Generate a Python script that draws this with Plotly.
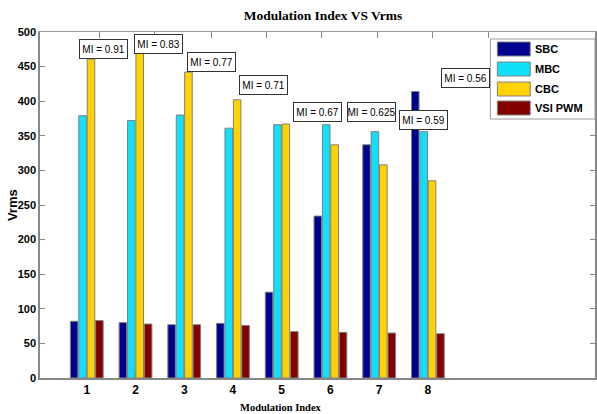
import plotly.graph_objects as go

categories = [1, 2, 3, 4, 5, 6, 7, 8]
series_names = ["SBC", "MBC", "CBC", "VSI PWM"]
sbc = [82, 80, 77, 79, 124, 234, 337, 414]
mbc = [379, 372, 380, 361, 366, 366, 356, 356]
cbc = [461, 471, 442, 402, 367, 337, 308, 285]
vsi = [83, 78, 77, 76, 67, 66, 65, 64]
mi_labels = ["MI = 0.91", "MI = 0.83", "MI = 0.77", "MI = 0.71",
             "MI = 0.67", "MI = 0.625", "MI = 0.59", "MI = 0.56"]
# label box centres in data coordinates
mi_x = [1.34, 2.47, 3.55, 4.63, 5.73, 6.84, 7.92, 8.78]
mi_y = [476, 482, 456, 423, 384, 384, 373, 433]
y_ticks = list(range(0, 501, 50))

colors = ["#00008F", "#10E0FA", "#FFD200", "#820000"]
values = [sbc, mbc, cbc, vsi]

SANS = "Liberation Sans Narrow, Arial Narrow, Liberation Sans, Arial"
SERIF = "Liberation Serif, Times New Roman, serif"

# plot-area pixel box and helpers (layout only)
L, R, T, B = 40, 597, 32, 378
def px(xp):
    return (xp - L) / (R - L)
def py(yp):
    return (B - yp) / (B - T)

fig = go.Figure()
for name, vals, col in zip(series_names, values, colors):
    fig.add_trace(go.Bar(x=categories, y=vals, name=name,
                         marker=dict(color=col, line=dict(color="#808080", width=1))))
# invisible trace so the top (mirror) tick axis renders
fig.add_trace(go.Scatter(x=[L], y=[0], xaxis="x2", mode="markers",
                         marker=dict(opacity=0), hoverinfo="skip", showlegend=False))

annotations = []
for t, x, y in zip(mi_labels, mi_x, mi_y):
    annotations.append(dict(x=x, y=y, xref="x", yref="y", text=t, showarrow=False,
                            xanchor="center", yanchor="middle",
                            font=dict(family=SANS, size=10, color="black"),
                            bgcolor="white", bordercolor="#333333", borderwidth=1,
                            width=47, height=18, borderpad=0))

annotations.append(dict(x=px(282), y=py(407), xref="paper", yref="paper",
                        text="Modulation Index", showarrow=False,
                        xanchor="center", yanchor="middle",
                        font=dict(family=SERIF, size=10.5, color="black", weight="bold")))
annotations.append(dict(x=px(12), y=py(205), xref="paper", yref="paper",
                        text="Vrms", textangle=-90, showarrow=False,
                        xanchor="center", yanchor="middle",
                        font=dict(family=SANS, size=13, color="black", weight="bold")))

# legend box drawn by hand (large swatches like the reference)
shapes = [dict(type="rect", xref="paper", yref="paper", x0=px(492), x1=px(597),
               y0=py(119), y1=py(39), line=dict(color="#999999", width=1), fillcolor="white")]
sw_top = [42, 62, 82, 101]
for name, col, t in zip(series_names, colors, sw_top):
    shapes.append(dict(type="rect", xref="paper", yref="paper", x0=px(499), x1=px(532),
                       y0=py(t + 14), y1=py(t), line=dict(color="#808080", width=1), fillcolor=col))
    annotations.append(dict(x=px(535), y=py(t + 7), xref="paper", yref="paper",
                            text=name, showarrow=False, xanchor="left", yanchor="middle",
                            font=dict(family=SANS, size=11, color="black", weight="bold")))

fig.update_layout(
    width=597, height=414,
    margin=dict(l=L, r=597 - R, t=T, b=414 - B),
    paper_bgcolor="white", plot_bgcolor="white",
    barmode="group", bargap=0.31, bargroupgap=0.1,
    showlegend=False,
    title=dict(text="Modulation Index VS Vrms", x=323 / 597, xanchor="center",
               y=1 - 15 / 414, yanchor="middle",
               font=dict(family=SERIF, size=13.5, color="black", weight="bold")),
    xaxis=dict(range=[0.04, 11.43], tickvals=categories, ticks="inside", ticklen=5,
               tickcolor="#888888", showline=True, linecolor="#888888", linewidth=2,
               showgrid=False, zeroline=False,
               tickfont=dict(family=SANS, size=12, color="black", weight="bold")),
    xaxis2=dict(overlaying="x", side="top", anchor="y", range=[L, R],
                tickvals=[100, 155, 212, 267, 323, 379, 434, 490], ticks="inside",
                ticklen=6, tickcolor="#888888", showticklabels=False, showgrid=False,
                showline=True, linecolor="#999999", linewidth=1, zeroline=False),
    yaxis=dict(range=[0, 500], tickvals=y_ticks, ticks="inside", ticklen=5,
               tickcolor="#888888", showline=True, linecolor="#888888", linewidth=1.5,
               mirror="ticks", showgrid=False, zeroline=False,
               tickfont=dict(family=SANS, size=11, color="black", weight="bold")),
    annotations=annotations,
    shapes=shapes,
)

fig.write_html("out.html", config={"displayModeBar": False},
               post_script="document.body.style.margin='0';document.body.style.overflow='hidden';")
